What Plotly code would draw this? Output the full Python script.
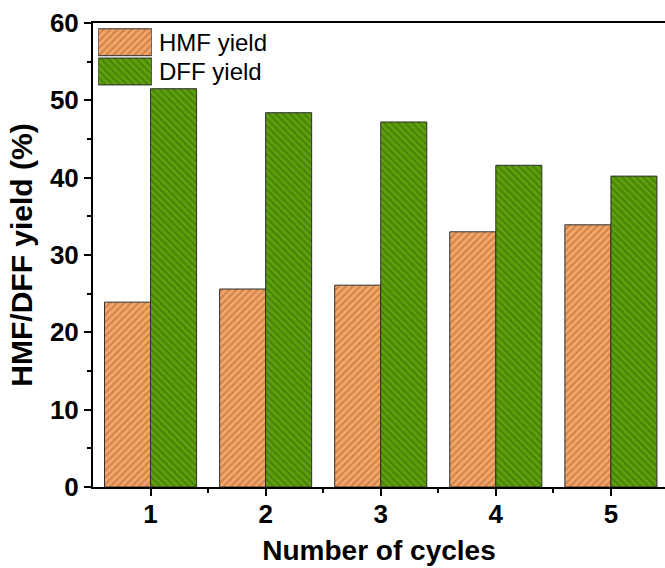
import plotly.graph_objects as go

cycles = [1, 2, 3, 4, 5]
hmf_yield = [23.9, 25.6, 26.1, 33.0, 33.9]
dff_yield = [51.5, 48.4, 47.2, 41.6, 40.2]
series_names = ["HMF yield", "DFF yield"]

orange_bg, orange_fg = "#F5A66A", "#A8642F"
green_bg, green_fg = "#5FA00E", "#346402"
outline = "#2e2e2e"
FONT = "Liberation Sans, Arial, sans-serif"
styles = {
    "HMF yield": dict(bg=orange_bg, fg=orange_fg, shape="/"),
    "DFF yield": dict(bg=green_bg, fg=green_fg, shape="\\"),
}


def marker_for(name):
    s = styles[name]
    return dict(color=s["bg"], line=dict(color=outline, width=1),
                pattern=dict(shape=s["shape"], fgcolor=s["fg"], bgcolor=s["bg"],
                             size=5, solidity=0.42, fillmode="overlay"))


fig = go.Figure()
for name, vals in zip(series_names, [hmf_yield, dff_yield]):
    fig.add_trace(go.Bar(x=cycles, y=vals, name=name, showlegend=False,
                         marker=marker_for(name)))

# legend swatches drawn as a small bar chart on an auxiliary axis
for name in series_names:
    fig.add_trace(go.Bar(
        x=[1], y=[name], orientation="h", showlegend=False, width=0.92,
        offsetgroup="legend", xaxis="x2", yaxis="y2", hoverinfo="skip",
        marker=marker_for(name),
    ))
    fig.add_annotation(x=1, y=name, xref="x2", yref="y2", text=name,
                       showarrow=False, xanchor="left", xshift=5,
                       font=dict(family=FONT, size=24, color="black"))

fig.update_layout(
    width=665, height=568,
    margin=dict(l=93, r=0, t=23, b=81),
    paper_bgcolor="white", plot_bgcolor="white",
    barmode="group", bargap=0.2, bargroupgap=0,
    font=dict(family=FONT, color="black"),
    xaxis=dict(
        range=[0.5, 5.47], tickvals=cycles, ticktext=[str(c) for c in cycles],
        showgrid=False, zeroline=False,
        showline=True, linecolor="black", linewidth=2, mirror=True,
        ticks="outside", ticklen=7, tickwidth=2, tickcolor="black",
        ticklabelstandoff=-4,
        minor=dict(tickvals=[1.5, 2.5, 3.5, 4.5], ticks="outside", ticklen=4,
                   tickwidth=2, tickcolor="black"),
        tickfont=dict(family=FONT, size=26, color="black", weight="bold"),
        title=dict(text="Number of cycles", standoff=12,
                   font=dict(family=FONT, size=28, color="black", weight="bold")),
    ),
    yaxis=dict(
        range=[0, 60], tickvals=[0, 10, 20, 30, 40, 50, 60],
        showgrid=False, zeroline=False,
        showline=True, linecolor="black", linewidth=2,
        ticks="outside", ticklen=7, tickwidth=2, tickcolor="black",
        minor=dict(tickvals=[5, 15, 25, 35, 45, 55], ticks="outside", ticklen=4,
                   tickwidth=2, tickcolor="black"),
        tickfont=dict(family=FONT, size=26, color="black", weight="bold"),
        title=dict(text="HMF/DFF yield (%)", standoff=8,
                   font=dict(family=FONT, size=30, color="black", weight="bold")),
    ),
    xaxis2=dict(domain=[0.009, 0.103], range=[0, 1], anchor="y2",
                visible=False, fixedrange=True),
    yaxis2=dict(domain=[0.864, 0.990], anchor="x2", visible=False,
                type="category", categoryorder="array",
                categoryarray=series_names[::-1], range=[-0.5, 1.5],
                fixedrange=True),
)

fig.write_html("out.html")
